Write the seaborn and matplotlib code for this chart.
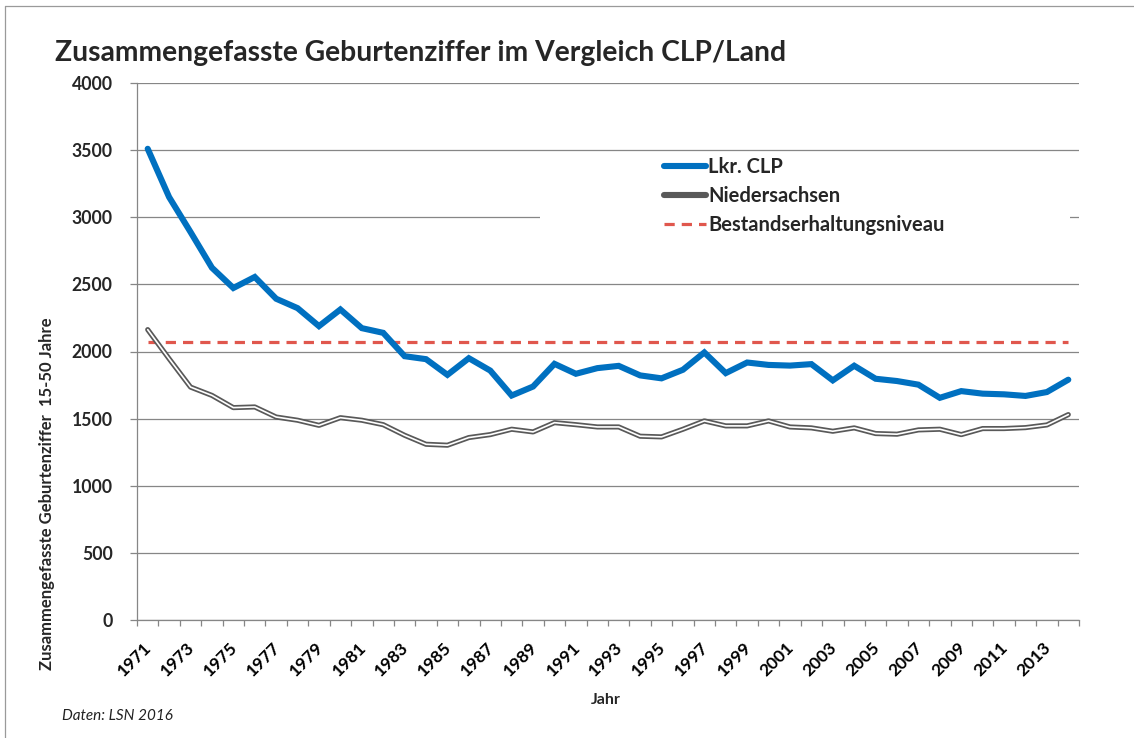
import numpy as np
import pandas as pd
import matplotlib
matplotlib.use("Agg")
import matplotlib.pyplot as plt
from matplotlib.lines import Line2D
from matplotlib.patches import Rectangle
import matplotlib.transforms as mtransforms
import seaborn as sns

years = list(range(1971, 2015))
clp = [3510, 3150, 2890, 2624, 2473, 2555, 2393, 2323, 2189, 2313,
       2174, 2139, 1965, 1943, 1826, 1950, 1858, 1672, 1739, 1908,
       1834, 1876, 1893, 1822, 1800, 1864, 1993, 1839, 1918, 1900,
       1895, 1906, 1785, 1894, 1797, 1780, 1753, 1655, 1705, 1686,
       1681, 1669, 1698, 1790]
nds = [2163, 1946, 1735, 1673, 1582, 1587, 1512, 1488, 1450, 1507,
       1488, 1455, 1376, 1309, 1302, 1359, 1381, 1421, 1401, 1470,
       1455, 1438, 1438, 1369, 1364, 1421, 1483, 1446, 1446, 1483,
       1438, 1431, 1406, 1431, 1389, 1384, 1416, 1421, 1381, 1426,
       1426, 1433, 1453, 1530]
niveau = [2070] * len(years)
series_names = ["Lkr. CLP", "Niedersachsen", "Bestandserhaltungsniveau"]
ytick_vals = [0, 500, 1000, 1500, 2000, 2500, 3000, 3500, 4000]

df = pd.DataFrame({"Jahr": years, "clp": clp, "nds": nds, "niveau": niveau})

sns.set_theme(style="white")
plt.rcParams["font.family"] = ["Lato", "DejaVu Sans"]

W, H = 1134, 738
fig = plt.figure(figsize=(W / 100, H / 100), dpi=100)
ax = fig.add_axes([137 / W, 1 - 620 / H, (1079 - 137) / W, (620 - 83) / H])

grid_c = "#868686"
blue = "#0070C0"
grey = "#595959"
red = "#E0574D"

ax.set_ylim(0, 4000)
ax.set_xlim(1970.5, 2014.5)
ax.set_yticks(ytick_vals)
ax.yaxis.grid(True, color=grid_c, lw=0.9)
ax.set_axisbelow(True)

# white legend area covering grid
ax.add_patch(Rectangle((0.428, 0.698), 0.562, 0.172, transform=ax.transAxes,
                       facecolor="white", edgecolor="none", zorder=1.5))

sns.lineplot(data=df, x="Jahr", y="niveau", ax=ax, color=red, lw=2.3,
             dashes=False, zorder=3).lines[-1].set_dashes([3.2, 2.2])
sns.lineplot(data=df, x="Jahr", y="nds", ax=ax, color=grey, lw=3.7, zorder=3)
sns.lineplot(data=df, x="Jahr", y="nds", ax=ax, color="white", lw=1.2, zorder=3.1)
sns.lineplot(data=df, x="Jahr", y="clp", ax=ax, color=blue, lw=4.4, zorder=4,
             solid_capstyle="round", solid_joinstyle="miter")

for s in ["top", "right"]:
    ax.spines[s].set_visible(False)
for s in ["left", "bottom"]:
    ax.spines[s].set_color(grid_c)
    ax.spines[s].set_linewidth(0.9)

label_years = years[::2]
ax.set_xticks(label_years)
ax.set_xticklabels([str(y) for y in label_years], rotation=45, ha="right",
                   rotation_mode="anchor", fontsize=12.5, fontweight="bold")
ax.set_xticks(np.arange(1970.5, 2015.0, 1.0), minor=True)
ax.tick_params(axis="x", which="major", length=0, pad=9, colors="black")
ax.tick_params(axis="x", which="minor", length=4, width=0.9, color=grid_c, direction="out", bottom=True)
ax.tick_params(axis="y", which="major", length=5, width=0.9, color=grid_c, direction="out",
               left=True, labelsize=12.7, pad=12.5)
for t in ax.get_yticklabels():
    t.set_fontweight("bold")
offset = mtransforms.ScaledTranslation(-4 / 100, -7 / 100, fig.dpi_scale_trans)
for t in ax.get_xticklabels():
    t.set_transform(t.get_transform() + offset)
ax.set_xlabel("")
ax.set_ylabel("")

handles = [Line2D([], [], color=blue, lw=4.4, solid_capstyle="round"),
           Line2D([], [], color=grey, lw=4.4, solid_capstyle="round"),
           Line2D([], [], color=red, lw=2.3, dashes=[3.2, 2.2])]
leg = ax.legend(handles, series_names, loc="upper left", bbox_to_anchor=(0.559, 0.863),
                frameon=False, handlelength=2.1, handletextpad=0.12, labelspacing=0.45,
                borderaxespad=0, borderpad=0,
                prop={"weight": "bold", "size": 14.5})

fig.text(55 / W, 1 - 53 / H, "Zusammengefasste Geburtenziffer im Vergleich CLP/Land",
         fontsize=20.3, fontweight="bold", ha="left", va="center")
fig.text(47 / W, 1 - 494 / H, "Zusammengefasste Geburtenziffer  15-50 Jahre",
         rotation=90, fontsize=12, fontweight="bold", ha="center", va="center")
fig.text(606 / W, 1 - 700 / H, "Jahr", fontsize=11.5, fontweight="bold", ha="center", va="center")
fig.text(62 / W, 1 - 716 / H, "Daten: LSN 2016", fontsize=11, style="italic",
         ha="left", va="center", color="#222222")

# outer chart border (left and top)
fig.add_artist(Line2D([5 / W, 5 / W], [0, 1 - 6 / H], transform=fig.transFigure, color="#9a9a9a", lw=0.9))
fig.add_artist(Line2D([5 / W, 1], [1 - 6 / H, 1 - 6 / H], transform=fig.transFigure, color="#9a9a9a", lw=0.9))

fig.savefig("out.png", dpi=100, facecolor="white")
